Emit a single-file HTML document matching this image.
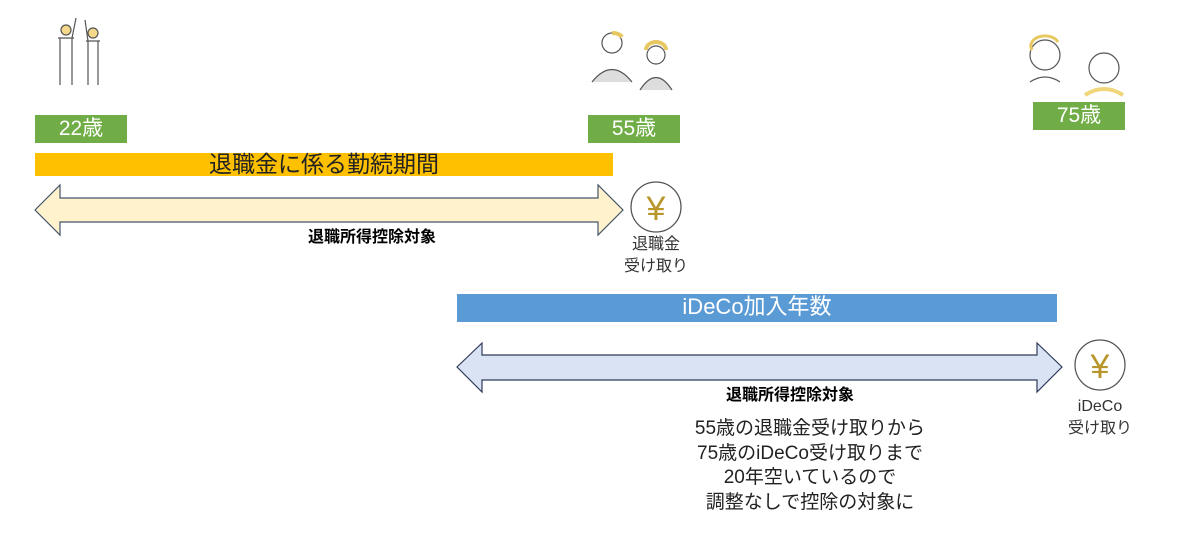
<!DOCTYPE html>
<html><head><meta charset="utf-8"><style>
body{margin:0;width:1194px;height:548px;background:#fff;position:relative;overflow:hidden;font-family:"Liberation Sans","Noto Sans CJK JP",sans-serif}
.a{position:absolute}
.g{background:#70ad47;color:#fff;font-size:21px;text-align:center;line-height:28px;width:92px;height:28px}
.c{text-align:center;white-space:nowrap}
</style></head><body>
<svg class="a" style="left:0;top:0" width="1194" height="548">
<g stroke="#555" fill="none" stroke-width="1.2">
<circle cx="66" cy="30" r="5" fill="#f5d98a"/><path d="M60 38 L60 85 M72 38 L72 85 M58 38 L74 38 M72 38 L76 18"/>
<circle cx="93" cy="33" r="5" fill="#f5d98a"/><path d="M88 41 L88 85 M98 41 L98 85 M86 41 L100 41 M88 41 L85 20"/>
<circle cx="612" cy="43" r="10" fill="#fff"/><path d="M612 33 a10 6 0 0 1 10 4" stroke="#e8c860" stroke-width="4"/>
<path d="M592 82 q20 -25 40 0" fill="#ddd"/>
<circle cx="656" cy="55" r="9"/><path d="M646 50 a10 8 0 0 1 20 0" stroke="#e8c860" stroke-width="4"/>
<path d="M640 90 q16 -25 32 0" fill="#ddd"/>
<circle cx="1045" cy="55" r="15"/><path d="M1032 50 a14 10 0 0 1 26 -8" stroke="#e8c860" stroke-width="3"/>
<path d="M1030 82 q15 -10 30 0"/>
<circle cx="1104" cy="68" r="15"/><path d="M1085 95 q19 -12 38 0" stroke="#f0d67a" stroke-width="4"/>
</g>
<rect x="35" y="153" width="578" height="23" fill="#ffc000"/>
<rect x="457" y="294" width="600" height="28" fill="#5b9bd5"/>
<polygon points="35,210 60,185 60,198 598,198 598,185 623,210 598,235 598,222 60,222 60,235" fill="#fff2cc" stroke="#44546a" stroke-width="1.2"/>
<polygon points="457,367 482,343 482,355 1037,355 1037,343 1062,367 1037,392 1037,380 482,380 482,392" fill="#dae3f3" stroke="#2f3b5a" stroke-width="1.2"/>
<circle cx="656" cy="207" r="25" fill="#fff" stroke="#555" stroke-width="1.3"/>
<circle cx="1100" cy="365" r="25" fill="#fff" stroke="#555" stroke-width="1.3"/>
<text x="656" y="220" font-size="34" text-anchor="middle" fill="#b8962a" font-family="Liberation Sans,sans-serif">¥</text>
<text x="1100" y="378" font-size="34" text-anchor="middle" fill="#b8962a" font-family="Liberation Sans,sans-serif">¥</text>
</svg>
<div class="a g" style="left:35px;top:115px">22歳</div>
<div class="a g" style="left:588px;top:115px">55歳</div>
<div class="a g" style="left:1033px;top:102px">75歳</div>
<div class="a c" style="left:35px;width:578px;top:150px;font-size:23px;line-height:28px;color:#222">退職金に係る勤続期間</div>
<div class="a c" style="left:457px;width:600px;top:293px;font-size:22px;line-height:28px;color:#fff">iDeCo加入年数</div>
<div class="a c" style="left:272px;width:200px;top:228px;font-size:16px;font-weight:bold;line-height:20px">退職所得控除対象</div>
<div class="a c" style="left:690px;width:200px;top:386px;font-size:16px;font-weight:bold;line-height:20px">退職所得控除対象</div>
<div class="a c" style="left:606px;width:100px;top:234px;font-size:16px;line-height:22px;color:#333">退職金<br>受け取り</div>
<div class="a c" style="left:1050px;width:100px;top:396px;font-size:16px;line-height:22px;color:#333">iDeCo<br>受け取り</div>
<div class="a c" style="left:660px;width:300px;top:417px;font-size:19px;line-height:24.5px;color:#222">55歳の退職金受け取りから<br>75歳のiDeCo受け取りまで<br>20年空いているので<br>調整なしで控除の対象に</div>
</body></html>
